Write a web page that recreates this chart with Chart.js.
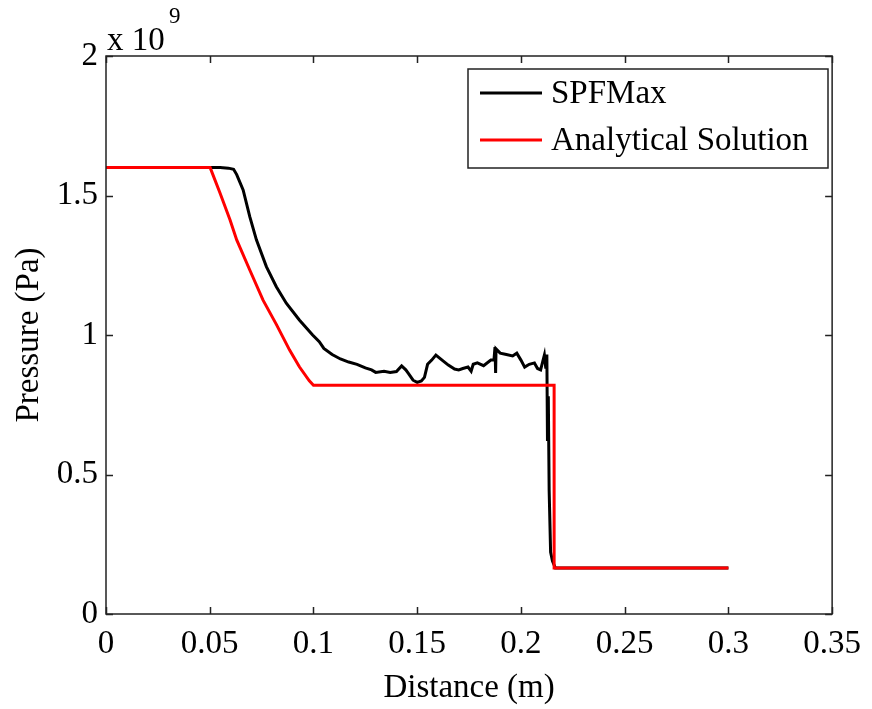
<!DOCTYPE html>
<html>
<head>
<meta charset="utf-8">
<script src="https://cdn.jsdelivr.net/npm/chart.js@4.4.1/dist/chart.umd.min.js"></script>
<style>
  html, body { margin: 0; padding: 0; background: #fff; }
  #wrap { width: 872px; height: 709px; position: relative; }
</style>
</head>
<body>
<div id="wrap"><canvas id="grafico"></canvas></div>
<script>
// distance (m) / pressure (x 10^9 Pa)
const spfX = [0, 0.02, 0.04, 0.055, 0.059, 0.0615, 0.063, 0.0661, 0.0693, 0.0725, 0.0773, 0.0821, 0.0869,
  0.0932, 0.0996, 0.1028, 0.105, 0.109, 0.113, 0.117, 0.121, 0.125, 0.128, 0.130, 0.134, 0.137, 0.14, 0.1425,
  0.1445, 0.146, 0.148, 0.150, 0.152, 0.1535, 0.155, 0.157, 0.159, 0.162, 0.165, 0.168, 0.170, 0.172, 0.1745,
  0.176, 0.177, 0.179, 0.182, 0.1855, 0.187, 0.1875, 0.1878, 0.188, 0.190, 0.193, 0.196, 0.198, 0.200, 0.2018,
  0.204, 0.2065, 0.208, 0.2095, 0.2105, 0.2113, 0.212, 0.2125, 0.2128, 0.2132, 0.2136, 0.2143, 0.2152, 0.2166,
  0.22, 0.3];
const spfY = [1.6, 1.6, 1.6, 1.6, 1.598, 1.594, 1.575, 1.52, 1.424, 1.341, 1.245, 1.173, 1.114,
  1.054, 1.0, 0.976, 0.952, 0.93, 0.914, 0.903, 0.895, 0.882, 0.875, 0.866, 0.87, 0.866, 0.869, 0.889,
  0.875, 0.86, 0.838, 0.83, 0.835, 0.848, 0.895, 0.91, 0.928, 0.91, 0.892, 0.878, 0.875, 0.88, 0.885,
  0.87, 0.895, 0.9, 0.89, 0.91, 0.91, 0.957, 0.864, 0.95, 0.935, 0.93, 0.925, 0.935, 0.91, 0.885,
  0.895, 0.9, 0.88, 0.875, 0.905, 0.928, 0.88, 0.93, 0.62, 0.78, 0.444, 0.222, 0.19, 0.165,
  0.165, 0.165];

const anaX = [0, 0.0502, 0.055, 0.0598, 0.063, 0.0693, 0.0757, 0.0821, 0.0885, 0.0932, 0.098, 0.1, 0.216, 0.216, 0.3];
const anaY = [1.6, 1.6, 1.508, 1.412, 1.341, 1.233, 1.125, 1.038, 0.946, 0.886, 0.836, 0.82, 0.82, 0.165, 0.165];

const xTicks = [0, 0.05, 0.1, 0.15, 0.2, 0.25, 0.3, 0.35];
const xTickLabels = ["0", "0.05", "0.1", "0.15", "0.2", "0.25", "0.3", "0.35"];
const yTicks = [0, 0.5, 1, 1.5, 2];
const yTickLabels = ["0", "0.5", "1", "1.5", "2"];

const fonte = "'Liberation Serif', 'Times New Roman', serif";
const tamanho = 33;

function pontos(xs, ys) {
  return xs.map((x, i) => ({ x: x, y: ys[i] }));
}

const moldura = {
  id: "moldura",
  afterDatasetsDraw(chart) {
    const { ctx, chartArea: a, scales } = chart;
    ctx.save();
    ctx.strokeStyle = "#222";
    ctx.lineWidth = 1.5;
    ctx.strokeRect(a.left, a.top, a.right - a.left, a.bottom - a.top);
    const tl = 7;
    ctx.beginPath();
    xTicks.forEach((v) => {
      const px = Math.round(scales.x.getPixelForValue(v)) + 0.5;
      ctx.moveTo(px, a.bottom); ctx.lineTo(px, a.bottom - tl);
      ctx.moveTo(px, a.top); ctx.lineTo(px, a.top + tl);
    });
    yTicks.forEach((v) => {
      const py = Math.round(scales.y.getPixelForValue(v)) + 0.5;
      ctx.moveTo(a.left, py); ctx.lineTo(a.left + tl, py);
      ctx.moveTo(a.right, py); ctx.lineTo(a.right - tl, py);
    });
    ctx.stroke();

    // multiplicador do eixo y
    ctx.fillStyle = "#000";
    ctx.textBaseline = "alphabetic";
    ctx.textAlign = "left";
    ctx.font = tamanho + "px " + fonte;
    ctx.fillText("x 10", a.left + 1, a.top - 6);
    ctx.font = "23px " + fonte;
    ctx.fillText("9", a.left + 63, a.top - 33);

    // legenda
    const lx = 468, ly = 69, lw = 360, lh = 99;
    ctx.fillStyle = "#fff";
    ctx.fillRect(lx, ly, lw, lh);
    ctx.strokeStyle = "#222";
    ctx.lineWidth = 1.5;
    ctx.strokeRect(lx, ly, lw, lh);
    ctx.font = tamanho + "px " + fonte;
    ctx.textBaseline = "middle";
    chart.data.datasets.forEach((ds, i) => {
      const cy = ly + 24 + i * 47;
      ctx.strokeStyle = ds.borderColor;
      ctx.lineWidth = 3;
      ctx.beginPath();
      ctx.moveTo(480, cy); ctx.lineTo(542, cy);
      ctx.stroke();
      ctx.fillStyle = "#000";
      ctx.fillText(ds.label, 551, cy + 1);
    });
    ctx.restore();
  }
};

new Chart(document.getElementById("grafico"), {
  type: "line",
  data: {
    datasets: [
      {
        label: "SPFMax",
        data: pontos(spfX, spfY),
        borderColor: "#000000",
        borderWidth: 3,
        pointRadius: 0,
        tension: 0,
        order: 1
      },
      {
        label: "Analytical Solution",
        data: pontos(anaX, anaY),
        borderColor: "#ff0000",
        borderWidth: 3,
        pointRadius: 0,
        tension: 0,
        order: 0
      }
    ]
  },
  options: {
    responsive: true,
    maintainAspectRatio: false,
    animation: false,
    layout: { padding: { top: 56, right: 35, left: 0, bottom: 0 } },
    plugins: { legend: { display: false }, tooltip: { enabled: false } },
    scales: {
      x: {
        type: "linear",
        min: 0,
        max: 0.35,
        afterFit: (s) => { s.height = 95; },
        afterBuildTicks: (s) => { s.ticks = xTicks.map((v) => ({ value: v })); },
        grid: { display: false, drawTicks: false },
        border: { display: false },
        ticks: {
          padding: 11,
          color: "#000",
          font: { family: fonte, size: tamanho },
          maxRotation: 0,
          autoSkip: false,
          callback: (v) => xTickLabels[xTicks.indexOf(v)]
        },
        title: {
          display: true,
          text: "Distance (m)",
          color: "#000",
          font: { family: fonte, size: tamanho },
          padding: { top: 0, bottom: 1 }
        }
      },
      y: {
        type: "linear",
        min: 0,
        max: 2,
        afterFit: (s) => { s.width = 106; },
        afterBuildTicks: (s) => { s.ticks = yTicks.map((v) => ({ value: v })); },
        grid: { display: false, drawTicks: false },
        border: { display: false },
        ticks: {
          padding: 8,
          color: "#000",
          font: { family: fonte, size: tamanho },
          autoSkip: false,
          callback: (v) => yTickLabels[yTicks.indexOf(v)]
        },
        title: {
          display: true,
          text: "Pressure (Pa)",
          color: "#000",
          font: { family: fonte, size: tamanho },
          padding: { top: 10, bottom: 0 }
        }
      }
    }
  },
  plugins: [moldura]
});
</script>
</body>
</html>
